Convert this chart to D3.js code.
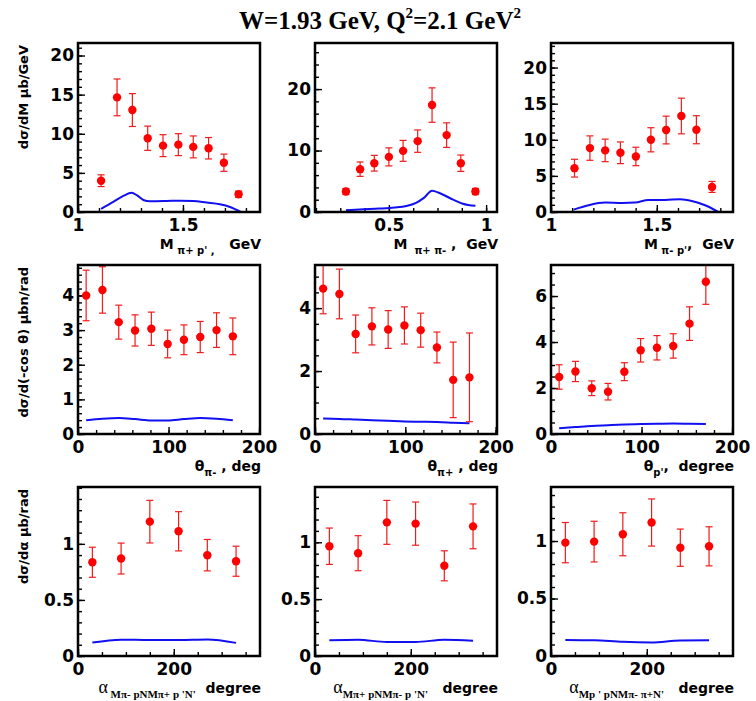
<!DOCTYPE html>
<html>
<head>
<meta charset="utf-8">
<script src="https://cdn.jsdelivr.net/npm/d3@7/dist/d3.min.js"></script>
<style>
  body { margin: 0; background: #fff; }
  svg { display: block; }
</style>
</head>
<body>
<svg id="chart" width="756" height="701"></svg>
<script>
// ---------------- data ----------------
// invariant mass M(pi+ p')
const mPipP_x   = [1.11, 1.186, 1.259, 1.332, 1.405, 1.478, 1.549, 1.622, 1.695, 1.765];
const mPipP_y   = [4.0, 14.65, 13.03, 9.43, 8.48, 8.61, 8.32, 8.15, 6.3, 2.27];
const mPipP_err = [0.75, 2.35, 2.1, 1.55, 1.4, 1.4, 1.4, 1.37, 1.1, 0.4];
const mPipP_modelX = [1.11, 1.168, 1.216, 1.256, 1.28, 1.311, 1.343, 1.422, 1.486, 1.549, 1.613, 1.676, 1.724, 1.775];
const mPipP_modelY = [0.4, 1.29, 2.06, 2.45, 2.15, 1.54, 1.38, 1.41, 1.45, 1.41, 1.2, 0.98, 0.64, 0.0];

// invariant mass M(pi+ pi-)
const mPipPim_x   = [0.279, 0.352, 0.425, 0.5, 0.573, 0.648, 0.722, 0.797, 0.870, 0.945];
const mPipPim_y   = [3.33, 6.97, 7.94, 8.97, 9.95, 11.53, 17.4, 12.51, 7.94, 3.33];
const mPipPim_err = [0.5, 1.17, 1.28, 1.47, 1.7, 1.82, 2.8, 2.0, 1.33, 0.5];
const mPipPim_modelX = [0.279, 0.35, 0.45, 0.53, 0.59, 0.64, 0.68, 0.722, 0.76, 0.83, 0.88, 0.945];
const mPipPim_modelY = [0.28, 0.42, 0.55, 0.72, 0.98, 1.5, 2.3, 3.45, 3.1, 2.0, 1.35, 1.0];

// invariant mass M(pi- p')
const mPimP_x   = [1.111, 1.184, 1.256, 1.328, 1.401, 1.472, 1.544, 1.616, 1.687, 1.761];
const mPimP_y   = [6.07, 8.85, 8.53, 8.2, 7.69, 10.0, 11.35, 13.29, 11.39, 3.47];
const mPimP_err = [1.23, 1.69, 1.56, 1.5, 1.28, 1.67, 1.92, 2.47, 1.94, 0.76];
const mPimP_modelX = [1.107, 1.177, 1.256, 1.335, 1.398, 1.46, 1.539, 1.61, 1.665, 1.728, 1.791];
const mPimP_modelY = [0.33, 0.93, 1.3, 1.25, 1.3, 1.67, 1.67, 1.76, 1.53, 0.93, 0.0];

// polar angle bins (deg)
const theta_x = [9, 27, 45, 63, 81, 99, 117, 135, 153, 171];

const thetaPim_y   = [4.0, 4.16, 3.23, 2.99, 3.04, 2.6, 2.72, 2.8, 3.0, 2.82];
const thetaPim_err = [0.73, 0.67, 0.49, 0.45, 0.48, 0.4, 0.43, 0.45, 0.5, 0.53];
const thetaPim_modelY = [0.40, 0.44, 0.46, 0.43, 0.39, 0.39, 0.43, 0.46, 0.44, 0.40];

const thetaPip_y   = [4.62, 4.45, 3.18, 3.42, 3.32, 3.45, 3.3, 2.75, 1.72, 1.8];
const thetaPip_err = [0.8, 0.79, 0.6, 0.59, 0.6, 0.59, 0.54, 0.49, 1.2, 1.41];
const thetaPip_modelY = [0.49, 0.48, 0.46, 0.44, 0.42, 0.40, 0.39, 0.38, 0.36, 0.34];

const thetaP_y   = [2.48, 2.72, 1.99, 1.84, 2.71, 3.64, 3.75, 3.83, 4.8, 6.62];
const thetaP_err = [0.53, 0.44, 0.32, 0.36, 0.39, 0.51, 0.53, 0.53, 0.73, 0.98];
const thetaP_modelY = [0.25, 0.30, 0.35, 0.38, 0.41, 0.43, 0.45, 0.46, 0.45, 0.43];

// angle between the two reaction planes (deg)
const alpha_x = [30, 90, 150, 210, 270, 330];

const alpha1_y   = [0.836, 0.869, 1.198, 1.112, 0.899, 0.845];
const alpha1_err = [0.134, 0.138, 0.19, 0.175, 0.14, 0.134];
const alpha1_modelY = [0.12, 0.146, 0.143, 0.143, 0.147, 0.117];

const alpha2_y   = [0.965, 0.904, 1.175, 1.164, 0.793, 1.14];
const alpha2_err = [0.16, 0.154, 0.193, 0.19, 0.132, 0.197];
const alpha2_modelY = [0.138, 0.143, 0.123, 0.123, 0.143, 0.134];

const alpha3_y   = [0.986, 0.995, 1.059, 1.161, 0.942, 0.954];
const alpha3_err = [0.175, 0.177, 0.187, 0.205, 0.162, 0.17];
const alpha3_modelY = [0.14, 0.137, 0.123, 0.118, 0.135, 0.137];

// tick labels
const massTicksA = [1, 1.5];
const massTicksB = [0.5, 1];
const thetaTicks = [0, 100, 200];
const alphaTicks = [0, 200];
const yTicksA = [0, 5, 10, 15, 20];
const yTicksB = [0, 10, 20];
const yTicksD = [0, 1, 2, 3, 4];
const yTicksE = [0, 2, 4];
const yTicksF = [0, 2, 4, 6];
const yTicksAlpha = [0, 0.5, 1];

// ---------------- layout ----------------
const svg = d3.select("#chart");
const COLS = [78, 315, 551];
const ROWS = [43, 265, 487];
const PW = 182, PH = 169;
const SANS = "'DejaVu Sans', sans-serif";
const SERIF = "'Liberation Serif', 'Times New Roman', serif";

const zip = (xs, ys) => xs.map((v, i) => [v, ys[i]]);

const panels = [
  { c: 0, r: 0, xd: [1, 1.867], xt: massTicksA, xm: 0.1, yd: [0, 21.6], yt: yTicksA, ym: 1,
    pts: zip(mPipP_x, mPipP_y), err: mPipP_err, model: zip(mPipP_modelX, mPipP_modelY),
    xTitle: [{ t: "M" }, { t: "\u00a0π+ p' ,", sub: true }, { t: "\u00a0\u00a0\u00a0GeV" }] },
  { c: 1, r: 0, xd: [0.12, 1.056], xt: massTicksB, xm: 0.125, yd: [0, 27.5], yt: yTicksB, ym: 2,
    pts: zip(mPipPim_x, mPipPim_y), err: mPipPim_err, model: zip(mPipPim_modelX, mPipPim_modelY),
    xTitle: [{ t: "M" }, { t: "\u00a0\u00a0π+ π-", sub: true }, { t: "\u00a0,\u00a0\u00a0GeV" }] },
  { c: 2, r: 0, xd: [1, 1.86], xt: massTicksA, xm: 0.1, yd: [0, 23.4], yt: yTicksA, ym: 1,
    pts: zip(mPimP_x, mPimP_y), err: mPimP_err, model: zip(mPimP_modelX, mPimP_modelY),
    xTitle: [{ t: "M" }, { t: "\u00a0π- p'", sub: true }, { t: ",\u00a0\u00a0GeV" }] },

  { c: 0, r: 1, xd: [0, 201], xt: thetaTicks, xm: 20, yd: [0, 4.88], yt: yTicksD, ym: 0.2,
    pts: zip(theta_x, thetaPim_y), err: thetaPim_err, model: zip(theta_x, thetaPim_modelY),
    xTitle: [{ t: "θ" }, { t: "π-", sub: true }, { t: "\u00a0,\u00a0deg" }] },
  { c: 1, r: 1, xd: [0, 201.5], xt: thetaTicks, xm: 20, yd: [0, 5.37], yt: yTicksE, ym: 0.5,
    pts: zip(theta_x, thetaPip_y), err: thetaPip_err, model: zip(theta_x, thetaPip_modelY),
    xTitle: [{ t: "θ" }, { t: "π+", sub: true }, { t: "\u00a0,\u00a0deg" }] },
  { c: 2, r: 1, xd: [0, 201], xt: thetaTicks, xm: 20, yd: [0, 7.35], yt: yTicksF, ym: 0.5,
    pts: zip(theta_x, thetaP_y), err: thetaP_err, model: zip(theta_x, thetaP_modelY),
    xTitle: [{ t: "θ" }, { t: "p'", sub: true }, { t: ",\u00a0\u00a0degree" }] },

  { c: 0, r: 2, xd: [0, 380], xt: alphaTicks, xm: 50, yd: [0, 1.507], yt: yTicksAlpha, ym: 0.1,
    pts: zip(alpha_x, alpha1_y), err: alpha1_err, model: zip(alpha_x, alpha1_modelY),
    xTitle: [{ t: "α", greek: true }, { t: "\u00a0Mπ- pNMπ+ p 'N'", sub: true, serif: true }, { t: "\u00a0\u00a0degree" }] },
  { c: 1, r: 2, xd: [0, 380], xt: alphaTicks, xm: 50, yd: [0, 1.486], yt: yTicksAlpha, ym: 0.1,
    pts: zip(alpha_x, alpha2_y), err: alpha2_err, model: zip(alpha_x, alpha2_modelY),
    xTitle: [{ t: "α", greek: true }, { t: "Mπ+ pNMπ- p 'N'", sub: true, serif: true }, { t: "\u00a0\u00a0\u00a0degree" }] },
  { c: 2, r: 2, xd: [0, 380], xt: alphaTicks, xm: 50, yd: [0, 1.47], yt: yTicksAlpha, ym: 0.1,
    pts: zip(alpha_x, alpha3_y), err: alpha3_err, model: zip(alpha_x, alpha3_modelY),
    xTitle: [{ t: "α", greek: true }, { t: "Mp ' pNMπ- π+N'", sub: true, serif: true }, { t: "\u00a0\u00a0\u00a0degree" }] }
];

const yTitles = ["dσ/dM μb/GeV", "dσ/d(-cos θ) μbn/rad", "dσ/dα μb/rad"];

function stepValues(domain, step) {
  const out = [];
  const start = Math.ceil(domain[0] / step - 1e-9);
  for (let k = start; k * step <= domain[1] + 1e-9; k++) out.push(+(k * step).toFixed(6));
  return out;
}

function styleTicks(sel) {
  sel.select(".domain").remove();
  sel.selectAll(".tick line").attr("stroke", "#000").attr("stroke-width", 1.4);
}

panels.forEach(p => {
  const left = COLS[p.c], top = ROWS[p.r];
  const g = svg.append("g").attr("transform", `translate(${left},${top})`);
  const x = d3.scaleLinear().domain(p.xd).range([0, PW]);
  const y = d3.scaleLinear().domain(p.yd).range([PH, 0]);

  // minor ticks (inward)
  g.append("g").call(d3.axisLeft(y).tickValues(stepValues(p.yd, p.ym)).tickSize(-4).tickFormat(""))
    .call(styleTicks);
  g.append("g").attr("transform", `translate(0,${PH})`)
    .call(d3.axisBottom(x).tickValues(stepValues(p.xd, p.xm)).tickSize(-4).tickFormat(""))
    .call(styleTicks);

  // major ticks + labels
  const ya = g.append("g")
    .call(d3.axisLeft(y).tickValues(p.yt).tickSize(-7).tickPadding(4).tickFormat(d => String(d)))
    .call(styleTicks);
  ya.selectAll("text").attr("font-family", SANS).attr("font-weight", "bold")
    .attr("font-size", 17).attr("fill", "#000");

  const xa = g.append("g").attr("transform", `translate(0,${PH})`)
    .call(d3.axisBottom(x).tickValues(p.xt).tickSize(-7).tickPadding(7).tickFormat(d => String(d)))
    .call(styleTicks);
  xa.selectAll("text").attr("font-family", SANS).attr("font-weight", "bold")
    .attr("font-size", 17).attr("fill", "#000");

  // model curve
  const line = d3.line().x(d => x(d[0])).y(d => y(d[1])).curve(d3.curveMonotoneX);
  g.append("path").datum(p.model).attr("d", line)
    .attr("fill", "none").attr("stroke", "#1010f0").attr("stroke-width", 2);

  // error bars
  const yTop = p.yd[1];
  const eb = g.append("g").attr("stroke", "#f21a1a").attr("stroke-width", 1.2);
  p.pts.forEach((d, i) => {
    const lo = Math.max(d[1] - p.err[i], p.yd[0]);
    const hi = Math.min(d[1] + p.err[i], yTop);
    const cx = x(d[0]);
    eb.append("line").attr("x1", cx).attr("x2", cx).attr("y1", y(lo)).attr("y2", y(hi));
    if (d[1] + p.err[i] <= yTop)
      eb.append("line").attr("x1", cx - 3.5).attr("x2", cx + 3.5).attr("y1", y(hi)).attr("y2", y(hi));
    eb.append("line").attr("x1", cx - 3.5).attr("x2", cx + 3.5).attr("y1", y(lo)).attr("y2", y(lo));
  });

  // data markers
  g.append("g").selectAll("circle").data(p.pts).join("circle")
    .attr("cx", d => x(d[0])).attr("cy", d => y(d[1])).attr("r", 4.2)
    .attr("fill", "#ff0000");

  // frame
  g.append("rect").attr("x", 0).attr("y", 0).attr("width", PW).attr("height", PH)
    .attr("fill", "none").attr("stroke", "#000").attr("stroke-width", 2.5);

  // x axis title, right-aligned to the frame
  const xt = svg.append("text")
    .attr("x", left + PW + 1).attr("y", top + PH + 37)
    .attr("text-anchor", "end").attr("font-family", SANS).attr("font-weight", "bold")
    .attr("font-size", 14).attr("fill", "#000");
  let shifted = 0;
  p.xTitle.forEach(part => {
    const ts = xt.append("tspan").text(part.t);
    if (part.sub) {
      const dy = 5;
      ts.attr("dy", dy - shifted).attr("font-size", part.serif ? 11 : 10);
      if (part.serif) ts.attr("font-family", SERIF);
      shifted = dy;
    } else {
      if (shifted) { ts.attr("dy", -shifted); shifted = 0; }
      if (part.greek) ts.attr("font-family", SERIF).attr("font-size", 18).attr("font-weight", "normal");
    }
  });
});

// y axis titles, one per row (left column)
yTitles.forEach((t, r) => {
  const top = ROWS[r];
  svg.append("text")
    .attr("transform", `translate(28,${top + 2}) rotate(-90)`)
    .attr("text-anchor", "end")
    .attr("font-family", SANS).attr("font-weight", "bold").attr("font-size", 13)
    .attr("fill", "#000").text(t);
});

// figure title
const title = svg.append("text")
  .attr("x", 380).attr("y", 29).attr("text-anchor", "middle")
  .attr("font-family", SERIF).attr("font-weight", "bold").attr("font-size", 25).attr("fill", "#000");
title.append("tspan").text("W=1.93 GeV, Q");
title.append("tspan").text("2").attr("font-size", 15).attr("dy", -11);
title.append("tspan").text("=2.1 GeV").attr("dy", 11);
title.append("tspan").text("2").attr("font-size", 15).attr("dy", -11);
</script>
</body>
</html>
